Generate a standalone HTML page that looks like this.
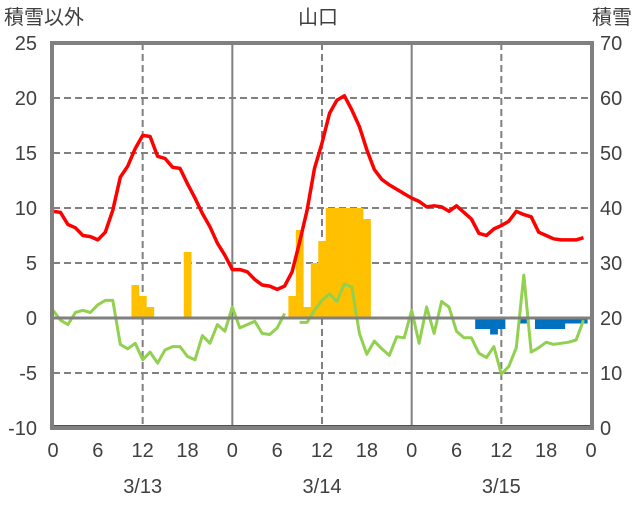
<!DOCTYPE html>
<html><head><meta charset="utf-8"><style>
body{margin:0;background:#fff}
svg text{font-family:"Liberation Sans","Noto Sans CJK JP",sans-serif;fill:#404040}
</style></head><body>
<svg id="chart" width="636" height="501" viewBox="0 0 636 501" xmlns="http://www.w3.org/2000/svg">
<text x="4" y="24" font-size="20">積雪以外</text>
<text x="318" y="24" font-size="20" text-anchor="middle">山口</text>
<text x="632" y="24" font-size="20" text-anchor="end">積雪</text>
<g id="grid"></g>
<g id="bars"></g>
<g id="lines"></g>
<g id="axes"></g>
</svg>
<script>
const leftTicks=[25,20,15,10,5,0,-5,-10];
const rightTicks=[70,60,50,40,30,20,10,0];
const hourLabels=["0","6","12","18","0","6","12","18","0","6","12","18","0"];
const dateLabels=["3/13","3/14","3/15"];
const temp=[9.7,9.6,8.5,8.2,7.5,7.4,7.1,7.8,9.8,12.8,13.8,15.4,16.6,16.5,14.7,14.5,13.7,13.6,12.2,10.9,9.5,8.3,6.8,5.7,4.4,4.4,4.2,3.5,3.0,2.9,2.6,2.9,4.2,6.9,9.8,13.6,15.9,18.6,19.8,20.2,18.9,17.4,15.3,13.5,12.6,12.1,11.7,11.3,10.9,10.6,10.1,10.2,10.1,9.7,10.2,9.6,9.0,7.7,7.5,8.1,8.4,8.8,9.7,9.4,9.2,7.8,7.5,7.2,7.1,7.1,7.1,7.3];
const green=[0.7,-0.2,-0.6,0.5,0.7,0.5,1.2,1.6,1.6,-2.4,-2.8,-2.3,-3.8,-3.1,-4.1,-2.9,-2.6,-2.6,-3.5,-3.8,-1.6,-2.3,-0.6,-1.2,1.0,-0.9,-0.6,-0.3,-1.4,-1.5,-0.9,0.4,null,-0.4,-0.4,0.7,1.6,2.2,1.5,3.1,2.8,-1.4,-3.3,-2.1,-2.8,-3.4,-1.7,-1.8,0.7,-2.3,1.0,-1.4,1.5,1.0,-1.2,-1.8,-1.8,-3.2,-3.6,-2.6,-5.1,-4.4,-2.7,3.9,-3.1,-2.7,-2.2,-2.4,-2.3,-2.2,-2.0,-0.2];
const snowHours=[11,12,13,18,32,33,34,35,36,37,38,39,40,41,42];
const snowVals=[3,2,1,6,2,8,1,5,7,10,10,10,10,10,9];
const meltHours=[57,58,59,60,63,65,66,67,68,69,70,71];
const meltVals=[-1,-1,-1.5,-1,-0.5,-1,-1,-1,-1,-0.5,-0.5,-0.5];
const depth=new Array(73).fill(0);

const X0=53,X1=591,YT=43,YB=428;
const x=h=>X0+(X1-X0)*h/72;
const yL=v=>YT+(25-v)*(YB-YT)/35;
const yR=v=>YB-v*(YB-YT)/70;
const NS="http://www.w3.org/2000/svg";
function mk(tag,attrs,parent){const e=document.createElementNS(NS,tag);for(const k in attrs)e.setAttribute(k,attrs[k]);document.getElementById(parent).appendChild(e);return e;}

leftTicks.forEach(v=>{
 if(v<25&&v>-10&&v!==0){const l=mk('line',{x1:X0,x2:X1,y1:yL(v),y2:yL(v),stroke:'#808080','stroke-width':2,'stroke-dasharray':'7,4'},'grid');
 
 }
 const t=mk('text',{x:37,y:yL(v)+7,'font-size':20,'text-anchor':'end'},'axes');t.textContent=v;
 
 
});
rightTicks.forEach(v=>{
 const t=mk('text',{x:600,y:yR(v)+7,'font-size':20},'axes');t.textContent=v;
 
 
});
[12,24,36,48,60].forEach(h=>{
 const solid=h%24===0;
 const l=mk('line',{x1:x(h),x2:x(h),y1:YT,y2:YB,stroke:'#808080','stroke-width':2,'stroke-dasharray':solid?'none':'7,4'},'grid');
 
 
});
hourLabels.forEach((s,i)=>{
 const t=mk('text',{x:x(i*6),y:457,'font-size':20,'text-anchor':'middle'},'axes');t.textContent=s;
 
 
});
dateLabels.forEach((s,i)=>{
 const t=mk('text',{x:x(12+24*i),y:493,'font-size':20,'text-anchor':'middle'},'axes');t.textContent=s;
 
 
});
const bw=(X1-X0)/72;
snowHours.forEach((h,i)=>{
 const v=snowVals[i];
 const r=mk('rect',{x:x(h)-bw/2,y:yL(v),width:bw+0.3,height:yL(0)-yL(v),fill:'#FFC000'},'bars');
 
 
});
meltHours.forEach((h,i)=>{
 const v=meltVals[i];
 const r=mk('rect',{x:x(h)-bw/2,y:yL(0),width:bw+0.3,height:yL(v)-yL(0),fill:'#0070C0'},'bars');
 
 
});
const z=mk('line',{x1:X0,x2:X1,y1:yL(0),y2:yL(0),stroke:'#808080','stroke-width':3},'axes');


function path(arr,yf){let d='',pen=false;arr.forEach((v,i)=>{if(v===null){pen=false;return;}d+=(pen?'L':'M')+x(i).toFixed(1)+','+yf(v).toFixed(1);pen=true;});return d;}
const g=mk('path',{d:path(green,yL),fill:'none',stroke:'#92D050','stroke-width':3,'stroke-linejoin':'round'},'lines');


const r=mk('path',{d:path(temp,yL),fill:'none',stroke:'#FF0000','stroke-width':3.5,'stroke-linejoin':'round'},'lines');


const fr=mk('rect',{x:X0-1,y:YT,width:X1-X0+2,height:YB-YT,fill:'none',stroke:'#808080','stroke-width':4},'axes');


const p=mk('path',{d:path(depth,yR).replace(/,428\.0/g,',426.5'),fill:'none',stroke:'#7030A0','stroke-width':3},'lines');


</script>
</body></html>
